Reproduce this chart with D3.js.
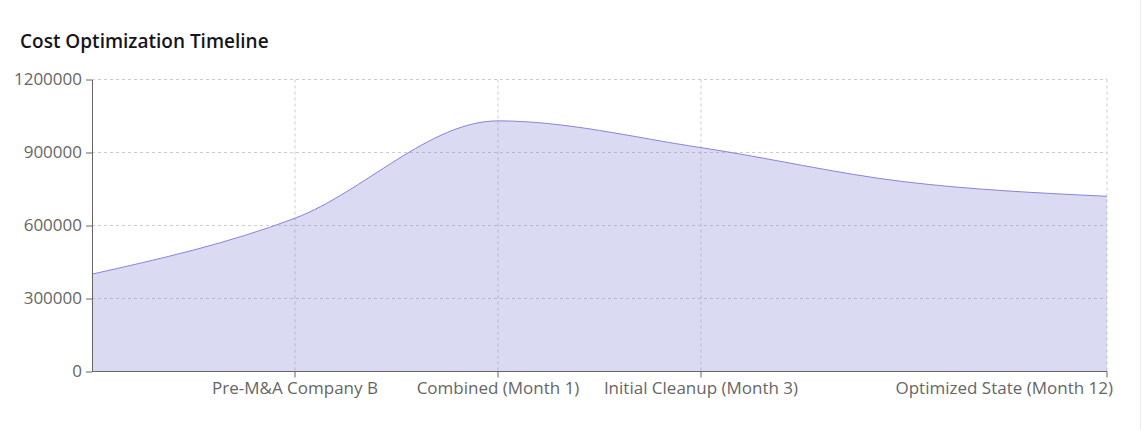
<!DOCTYPE html>
<html>
<head>
<meta charset="utf-8">
<script src="https://cdn.jsdelivr.net/npm/d3@7"></script>
<style>
  html, body { margin: 0; padding: 0; background: #fff; }
  body { width: 1142px; height: 430px; overflow: hidden; }
  svg { display: block; font-family: "Open Sans", "Noto Sans", sans-serif; }
</style>
</head>
<body>
<script>
// chart values
const stages = [
  "Pre-M&A Company A",
  "Pre-M&A Company B",
  "Combined (Month 1)",
  "Initial Cleanup (Month 3)",
  "Stabilization (Month 6)",
  "Optimized State (Month 12)"
];
const totalCost = [400000, 630000, 1030000, 920000, 780000, 720000];
const yTicks = [0, 300000, 600000, 900000, 1200000];

const w = 1142;
const h = 430;
const padL = 92, padR = 1107, padT = 79.5, padB = 371.5;
const fs = 17;

const svg = d3.select("body")
  .append("svg")
  .attr("width", w)
  .attr("height", h);

// faint card edge on the right
svg.append("line")
  .attr("x1", w - 1.5).attr("x2", w - 1.5)
  .attr("y1", 0).attr("y2", h)
  .attr("stroke", "#ececec");

svg.append("text")
  .text("Cost Optimization Timeline")
  .attr("x", 20)
  .attr("y", 48)
  .attr("font-size", 19)
  .attr("font-weight", 600)
  .attr("fill", "#151520");

const x = d3.scalePoint().domain(stages).range([padL, padR]);
const y = d3.scaleLinear().domain([0, 1200000]).range([padB, padT]);

const data = stages.map((s, i) => ({ stage: s, value: totalCost[i] }));

// work out which x labels fit (ticks kept from the end, like recharts)
const measure = svg.append("text").attr("font-size", fs).attr("visibility", "hidden");
const widths = stages.map(s => measure.text(s).node().getComputedTextLength());
measure.remove();

const shown = [];
let limit = padR + 6;
for (let i = stages.length - 1; i >= 0; i--) {
  let c = x(stages[i]);
  const half = widths[i] / 2;
  if (i === stages.length - 1 && c + half > limit) c = limit - half;
  if (c - half >= padL && c + half <= limit) {
    shown.unshift({ i: i, pos: x(stages[i]), label: c });
    limit = c - half - 10;
  }
}

// grid
const grid = svg.append("g")
  .attr("stroke", "#cccccc")
  .attr("stroke-dasharray", "3 3");

grid.selectAll("line.h")
  .data(yTicks.filter(d => d > 0))
  .enter()
  .append("line")
  .attr("x1", padL).attr("x2", padR)
  .attr("y1", d => y(d)).attr("y2", d => y(d));

grid.selectAll("line.v")
  .data(shown)
  .enter()
  .append("line")
  .attr("x1", d => d.pos).attr("x2", d => d.pos)
  .attr("y1", padT).attr("y2", padB);

// area
svg.append("path")
  .datum(data)
  .attr("d", d3.area()
    .x(d => x(d.stage))
    .y0(y(0))
    .y1(d => y(d.value))
    .curve(d3.curveMonotoneX))
  .attr("fill", "#8884d8")
  .attr("fill-opacity", 0.3);

svg.append("path")
  .datum(data)
  .attr("d", d3.line()
    .x(d => x(d.stage))
    .y(d => y(d.value))
    .curve(d3.curveMonotoneX))
  .attr("fill", "none")
  .attr("stroke", "#8884d8")
  .attr("stroke-width", 1);

// y axis
const yAxis = svg.append("g")
  .attr("transform", `translate(${padL},0)`)
  .call(d3.axisLeft(y).tickValues(yTicks).tickSizeOuter(0).tickPadding(4).tickFormat(d3.format("d")));
yAxis.select(".domain").attr("stroke", "#666");
yAxis.selectAll(".tick line").attr("stroke", "#666");
yAxis.selectAll(".tick text")
  .attr("font-size", fs)
  .attr("font-family", "Open Sans, sans-serif")
  .attr("fill", "#666");

// x axis
const xg = svg.append("g");
xg.append("line")
  .attr("x1", padL).attr("x2", padR)
  .attr("y1", padB).attr("y2", padB)
  .attr("stroke", "#666");

xg.selectAll("line.tick")
  .data(shown)
  .enter()
  .append("line")
  .attr("x1", d => d.pos).attr("x2", d => d.pos)
  .attr("y1", padB).attr("y2", padB + 6)
  .attr("stroke", "#666");

xg.selectAll("text")
  .data(shown)
  .enter()
  .append("text")
  .attr("x", d => d.label)
  .attr("y", padB + 22.5)
  .attr("text-anchor", "middle")
  .attr("font-size", fs)
  .attr("fill", "#666")
  .text(d => stages[d.i]);
</script>
</body>
</html>
